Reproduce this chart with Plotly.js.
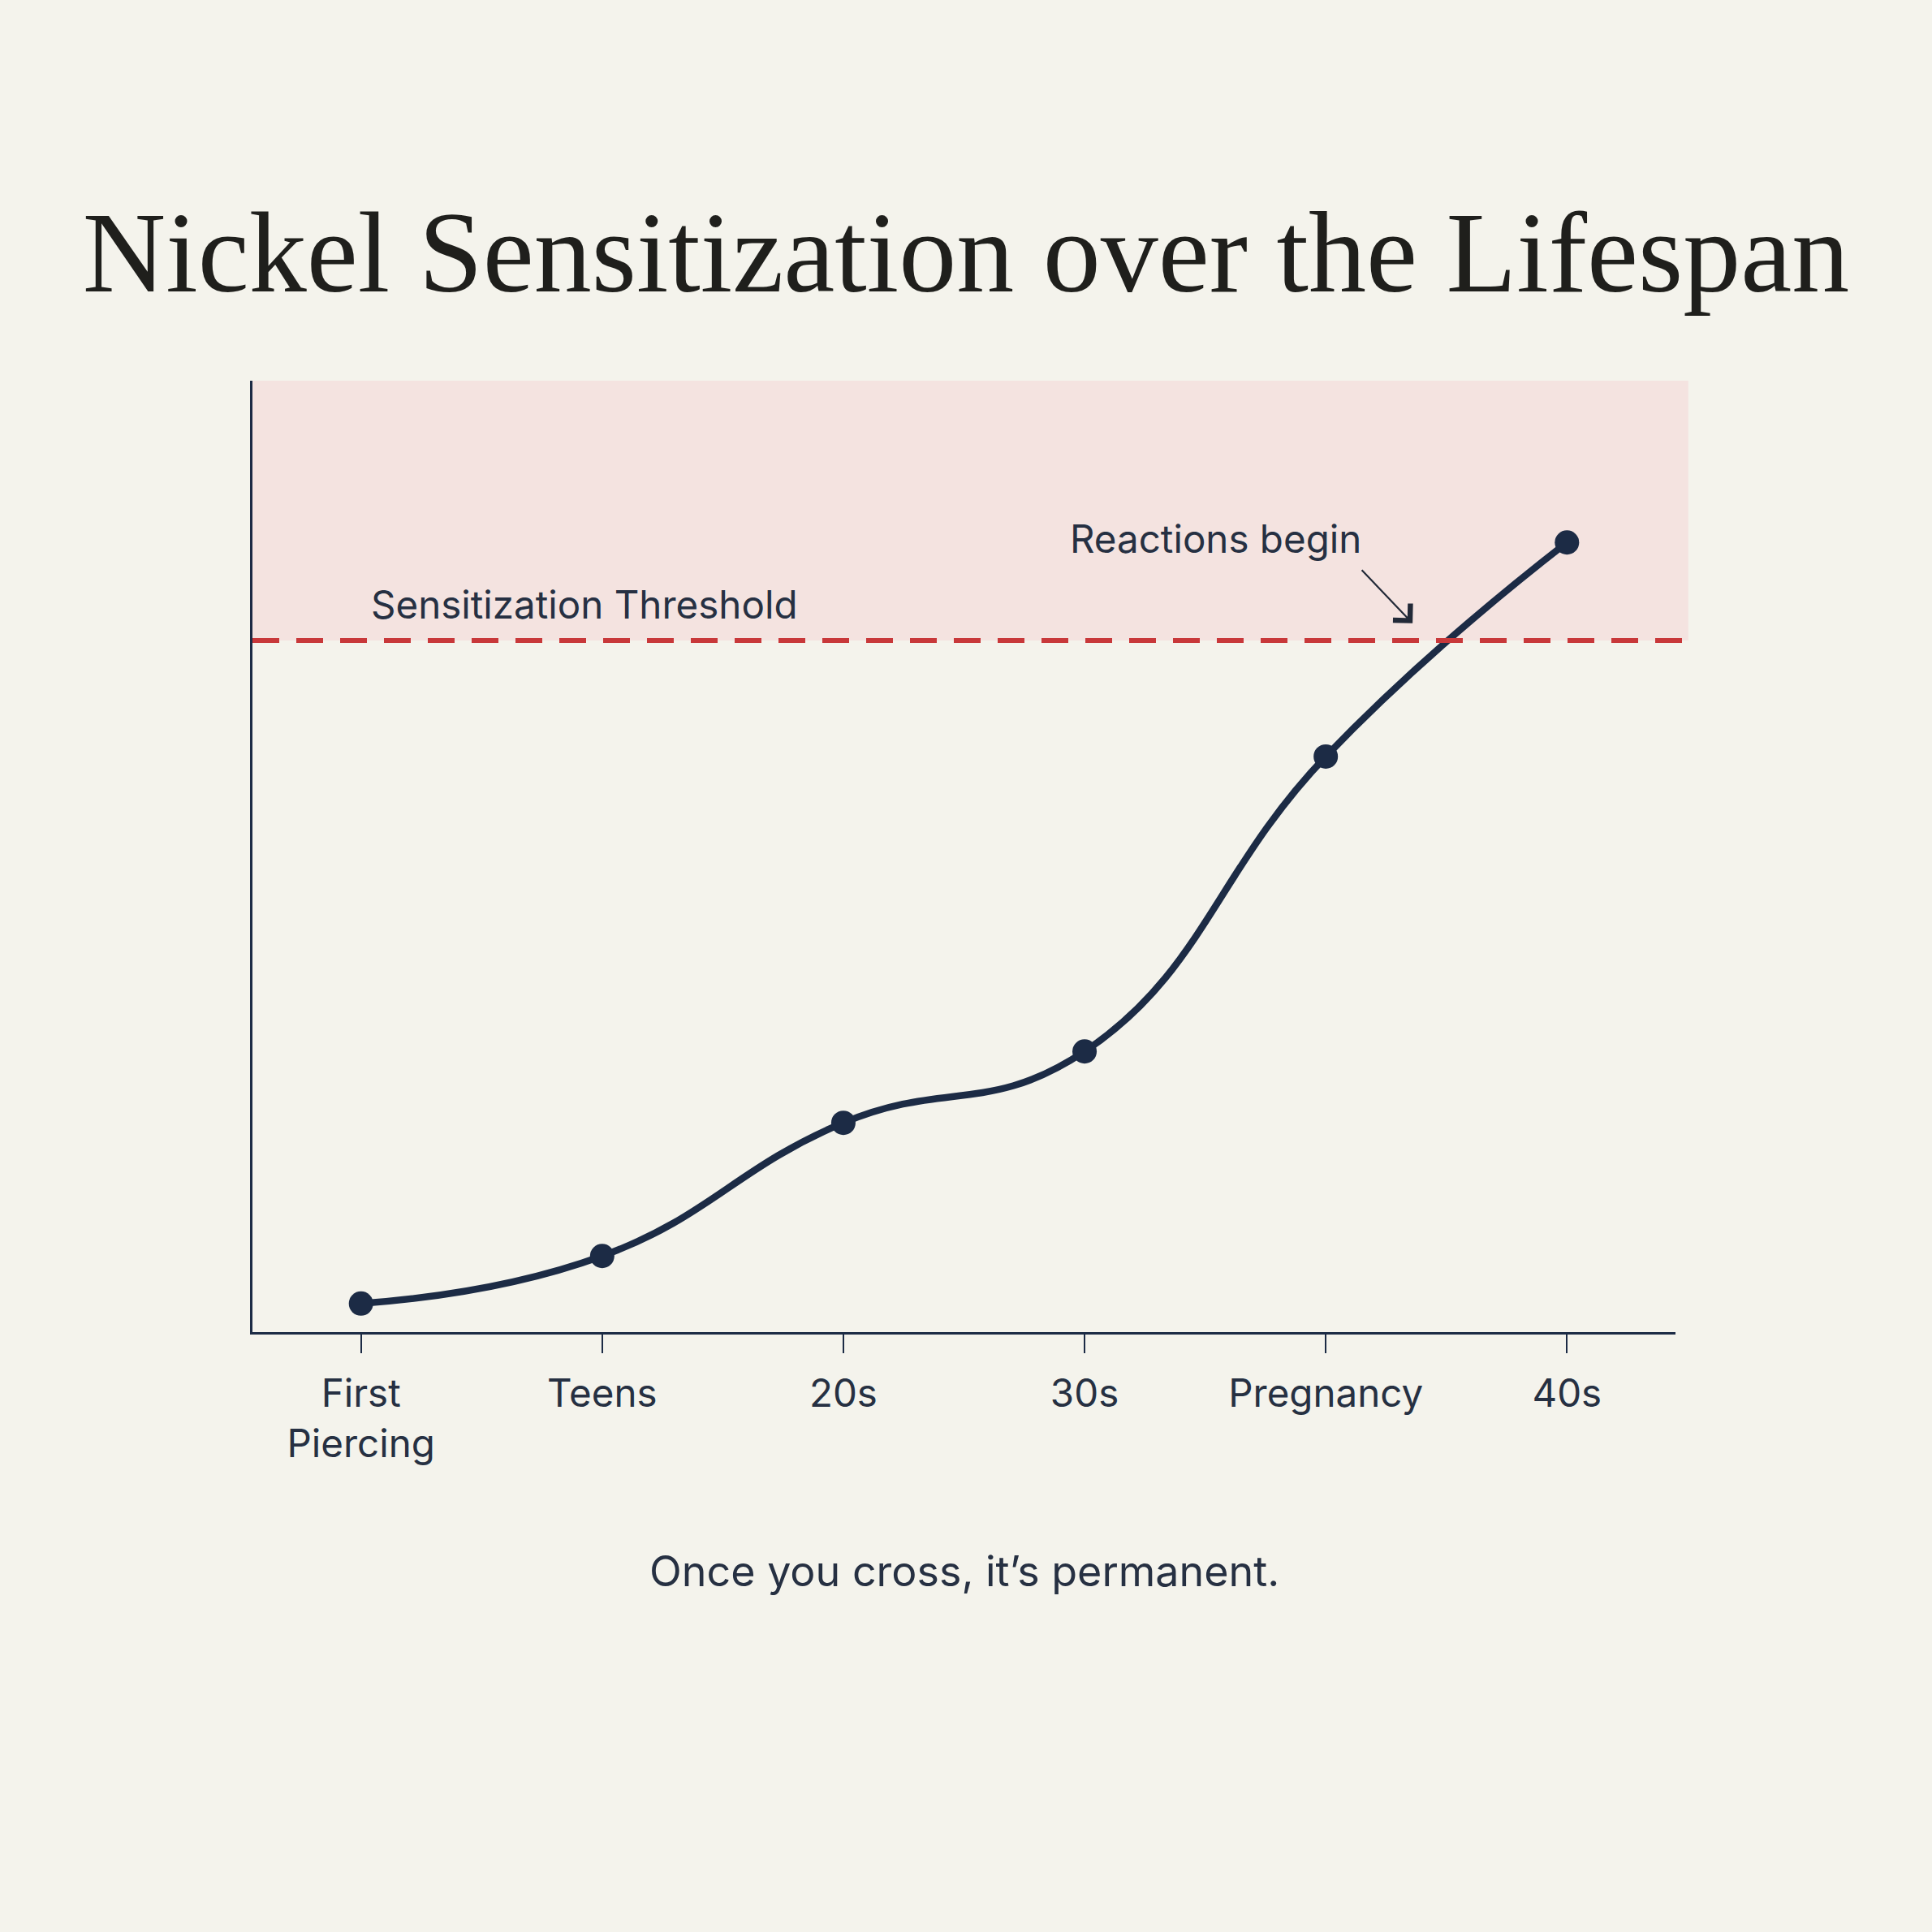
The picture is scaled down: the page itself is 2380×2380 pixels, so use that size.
<!DOCTYPE html>
<html>
<head>
<meta charset="utf-8">
<script src="https://cdn.plot.ly/plotly-3.0.1.min.js"></script>
<style>
  html, body { margin: 0; padding: 0; background: #f4f3ec; }
  #myPlot { width: 2380px; height: 2380px; }
</style>
</head>
<body>
<div id="myPlot"></div>
<script>
// stages along the lifespan and the sensitization level
let stages = ["First<br>Piercing", "Teens", "20s", "30s", "Pregnancy", "40s"];
let level = [3, 8, 22, 29.5, 60.5, 83];
let threshold = 72.7;
let crossing = [4.36, 74.5]; // where the arrow points

let xs = [];
for (let i = 0; i < stages.length; i++) {
  xs[i] = i;
}

let navy = "#1c2b45";
let textColor = "#263042";

var trace1 = {
  x: xs,
  y: level,
  type: "scatter",
  mode: "lines+markers",
  line: { color: navy, width: 8.5, shape: "spline", smoothing: 1.3 },
  marker: { color: navy, size: 30 },
  hoverinfo: "skip",
  showlegend: false
};

var layout = {
  width: 2380,
  height: 2380,
  paper_bgcolor: "#f4f3ec",
  plot_bgcolor: "rgba(0,0,0,0)",
  margin: { l: 311, r: 316, t: 469, b: 739 },
  title: {
    text: "Nickel Sensitization over the Lifespan",
    font: { family: "Liberation Serif, serif", size: 142, color: "#1f1f1c" },
    x: 0.5,
    xanchor: "center",
    y: 1 - 309 / 2380,
    yanchor: "middle"
  },
  xaxis: {
    range: [-0.45, 5.45],
    tickmode: "array",
    tickvals: xs,
    ticktext: stages,
    ticks: "outside",
    ticklen: 23,
    tickwidth: 2,
    tickcolor: navy,
    showline: true,
    linecolor: navy,
    linewidth: 3,
    showgrid: false,
    zeroline: false,
    ticklabelstandoff: 9,
    tickfont: { family: "Inter, sans-serif", size: 47.5, color: textColor }
  },
  yaxis: {
    range: [0, 100],
    showline: true,
    linecolor: navy,
    linewidth: 3,
    showgrid: false,
    zeroline: false,
    showticklabels: false,
    ticks: ""
  },
  shapes: [
    {
      type: "rect",
      xref: "paper", yref: "y",
      x0: 0, x1: 1.009,
      y0: threshold, y1: 100,
      fillcolor: "#f4e3e0",
      line: { width: 0 },
      layer: "below"
    },
    {
      type: "line",
      xref: "paper", yref: "y",
      x0: 0, x1: 1.009,
      y0: threshold, y1: threshold,
      line: { color: "#c8383a", width: 6, dash: "33px,21px" }
    }
  ],
  annotations: [
    {
      x: 0.035, y: 76.5, xref: "x", yref: "y",
      text: "Sensitization Threshold",
      showarrow: false,
      xanchor: "left", yanchor: "middle",
      font: { family: "Inter, sans-serif", size: 47.5, color: textColor }
    },
    {
      x: 3.543, y: 83.4, xref: "x", yref: "y",
      text: "Reactions begin",
      showarrow: false,
      xanchor: "center", yanchor: "middle",
      font: { family: "Inter, sans-serif", size: 47.5, color: textColor }
    },
    {
      x: crossing[0], y: crossing[1], xref: "x", yref: "y",
      text: "",
      showarrow: true,
      arrowhead: 4,
      arrowsize: 2.6,
      arrowwidth: 2.2,
      arrowcolor: "#222a38",
      ax: -64, ay: -67
    },
    {
      x: 0.5, y: -0.251, xref: "paper", yref: "paper",
      text: "Once you cross, it’s permanent.",
      showarrow: false,
      xanchor: "center", yanchor: "middle",
      font: { family: "Inter, sans-serif", size: 52, color: textColor }
    }
  ]
};

Plotly.newPlot("myPlot", [trace1], layout, { displayModeBar: false, staticPlot: true });
</script>
</body>
</html>
